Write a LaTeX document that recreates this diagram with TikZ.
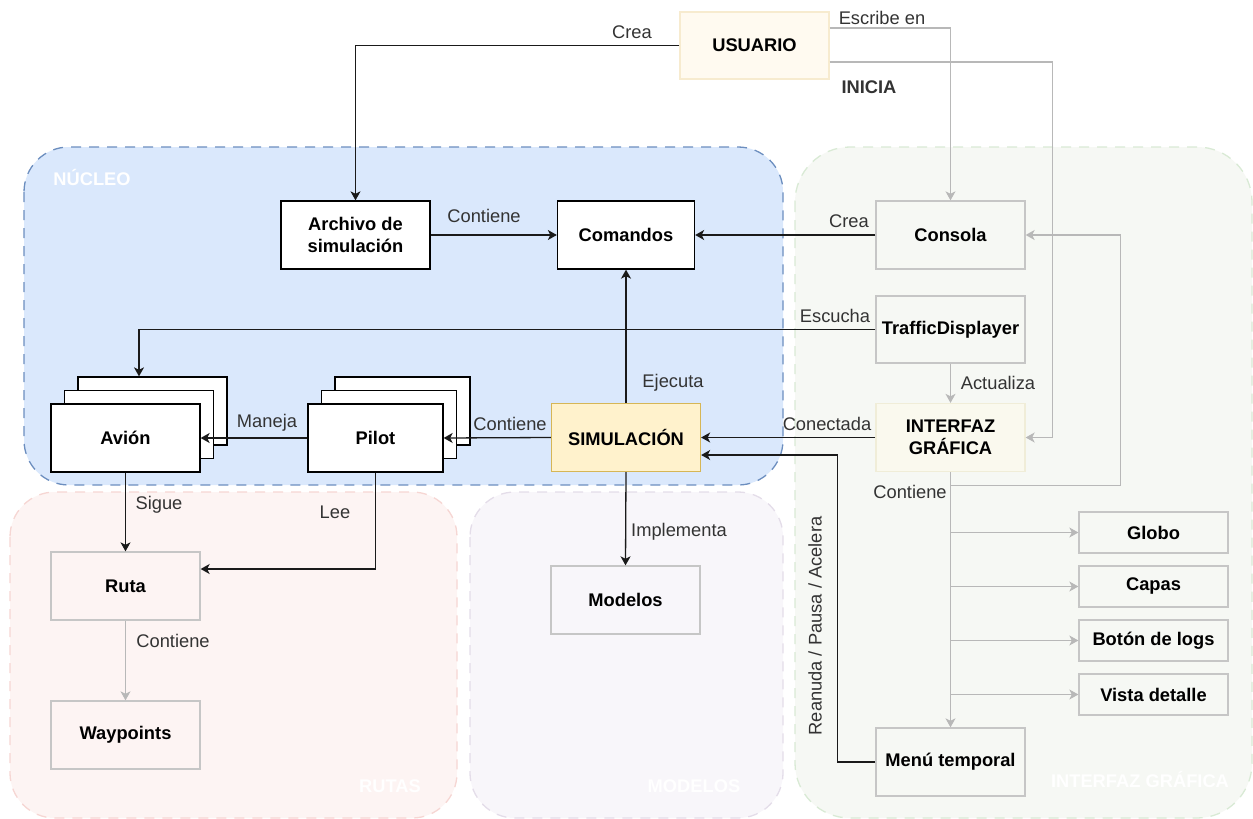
\documentclass[tikz,border=0pt]{standalone}
\usepackage{fontspec}
\setmainfont{Liberation Sans}
\usetikzlibrary{arrows.meta,calc}

\definecolor{nucFill}{HTML}{DAE8FC}
\definecolor{nucLine}{HTML}{6C8EBF}
\definecolor{guiFill}{HTML}{F6F8F4}
\definecolor{guiLine}{HTML}{D9EAD5}
\definecolor{rutFill}{HTML}{FDF4F3}
\definecolor{rutLine}{HTML}{F6D6D3}
\definecolor{modFill}{HTML}{F8F6FA}
\definecolor{modLine}{HTML}{E4DDE9}
\definecolor{usrFill}{HTML}{FFFAF0}
\definecolor{usrLine}{HTML}{F7EBCF}
\definecolor{iguiFill}{HTML}{FAF9EE}
\definecolor{iguiLine}{HTML}{F0EDD8}
\definecolor{simFill}{HTML}{FFF2CC}
\definecolor{simLine}{HTML}{D6B656}
\definecolor{boxGrey}{HTML}{C6C6C6}
\definecolor{edgeGrey}{HTML}{B8B8B8}
\definecolor{edgeDark}{HTML}{1A1A1A}
\definecolor{lblText}{HTML}{333333}

\begin{document}
\begin{tikzpicture}[x=1pt,y=-1pt,
  box/.style={draw, line width=1.3pt, minimum width=149pt, minimum height=68pt,
    inner sep=0pt, align=center, font=\fontsize{18.3}{22}\selectfont\bfseries},
  wbox/.style={box, draw=black, fill=white},
  gbox/.style={box, draw=boxGrey},
  lbl/.style={inner sep=0pt, text=lblText, font=\fontsize{18.3}{22}\selectfont},
  ttl/.style={inner sep=0pt, text=white, font=\fontsize{18.3}{22}\selectfont\bfseries},
  grp/.style={line width=1.3pt, dash pattern=on 10pt off 8pt},
  blk/.style={draw=edgeDark, line width=1.3pt, -{Stealth[length=9pt,width=10pt,inset=2.5pt]}},
  gry/.style={draw=edgeGrey, line width=1.3pt, -{Stealth[length=9pt,width=10pt,inset=2.5pt,fill=edgeGrey]}},
  plain/.style={draw=edgeDark, line width=1.3pt}
]
\useasboundingbox (0,0) rectangle (1253,819);

% ---- group areas ----
\path[grp, fill=rutFill, draw=rutLine, rounded corners=45pt] (10,492) rectangle (457,818);
\path[grp, fill=modFill, draw=modLine, rounded corners=45pt] (470,492) rectangle (783,818);
\path[grp, fill=guiFill, draw=guiLine, rounded corners=55pt] (795,147) rectangle (1252,818);
\path[grp, fill=nucFill, draw=nucLine, rounded corners=45pt] (24,147) rectangle (783,485);

\node[ttl] (tNucleo) at (92,177) {NÚCLEO};
\node[ttl] (tRutas) at (390,786) {RUTAS};
\node[ttl] (tModelos) at (694,786) {MODELOS};
\node[ttl] (tGui) at (1140,779) {INTERFAZ GRÁFICA};

% ---- components ----
\node[box, fill=usrFill, draw=usrLine, minimum height=67pt] (usuario) at (754.5,45.5) {USUARIO};
\node[wbox] (archivo) at (355.5,235) {Archivo de\\simulación};
\node[wbox, minimum width=137pt] (comandos) at (626,235) {Comandos};
\node[gbox, fill=guiFill] (consola) at (950.5,235) {Consola};
\node[gbox, fill=guiFill, minimum height=67pt] (traffic) at (950.5,329.5) {TrafficDisplayer};
\node[box, fill=iguiFill, draw=iguiLine] (igui) at (950.5,437.5) {INTERFAZ\\GRÁFICA};
\node[box, fill=simFill, draw=simLine] (sim) at (626,437.5) {SIMULACIÓN};

% stacked Pilot boxes
\node[wbox, minimum width=135pt] (pilotC) at (402.5,411) {};
\node[wbox, minimum width=135pt] (pilotB) at (389,424.5) {};
\node[wbox, minimum width=135pt] (pilot) at (375.5,438) {Pilot};

% stacked Avión boxes
\node[wbox] (avionC) at (152.5,411) {};
\node[wbox] (avionB) at (139,424.5) {};
\node[wbox] (avion) at (125.5,438) {Avión};

\node[gbox, fill=rutFill] (ruta) at (125.5,586) {Ruta};
\node[gbox, fill=rutFill] (wayp) at (125.5,735) {Waypoints};
\node[gbox, fill=modFill] (modelos) at (625.5,600) {Modelos};

\node[gbox, fill=guiFill, minimum height=41pt] (globo) at (1153.5,532.5) {Globo};
\node[gbox, fill=guiFill, minimum height=41pt] (capas) at (1153.5,586.5) {Capas};
\node[gbox, fill=guiFill, minimum height=41pt] (logs) at (1153.5,640.5) {Botón de logs};
\node[gbox, fill=guiFill, minimum height=41pt] (vista) at (1153.5,694.5) {Vista detalle};
\node[gbox, fill=guiFill] (menu) at (950.5,762) {Menú temporal};

% ---- connectors ----
\draw[blk] (usuario.west) -| (archivo.north);
\draw[gry] ([yshift=17.5pt]usuario.east) -| (consola.north);
\draw[gry] ([yshift=-16.5pt]usuario.east) -| ($(igui.east)+(27,0)$) -- (igui.east);
\draw[blk] (archivo.east) -- (comandos.west);
\draw[blk] (consola.west) -- (comandos.east);
\draw[blk] (sim.north) -- (comandos.south);
\draw[blk] (traffic.west) -| ([xshift=-13.5pt]avionC.north);
\draw[gry] (traffic.south) -- (igui.north);
\draw[blk] (igui.west) -- (sim.east);
\draw[blk] (menu.west) -| ($(sim.east)+(136,17.5)$) -- ([yshift=-17.5pt]sim.east);
\draw[blk] (sim.west) -- (pilot.east);
\draw[blk] (pilot.west) -- (avion.east);
\draw[blk] (avion.south) -- (ruta.north);
\draw[blk] (pilot.south) |- ([yshift=17pt]ruta.east);
\draw[gry] (ruta.south) -- (wayp.north);
\draw[blk] (sim.south) -- (modelos.north);
\draw[gry] (igui.south) -- ++(0,13.5) -| ($(consola.east)+(94.5,0)$) -- (consola.east);
\draw[gry] (igui.south) |- (globo.west);
\draw[gry] (igui.south) |- (capas.west);
\draw[gry] (igui.south) |- (logs.west);
\draw[gry] (igui.south) |- (vista.west);
\draw[gry] (igui.south) -- (menu.north);

% ---- connector labels ----
\node[lbl] (lCrea) at (632,32) {Crea};
\node[lbl] (lEscribe) at (882,18) {Escribe en};
\node[inner sep=0pt, text=lblText, font=\fontsize{18.3}{22}\selectfont\bfseries] (lInicia) at (869,87) {INICIA};
\node[lbl] (lContArch) at (484,216) {Contiene};
\node[lbl] (lCreaCons) at (849,221) {Crea};
\node[lbl] (lEscucha) at (835,316) {Escucha};
\node[lbl] (lActualiza) at (998,383) {Actualiza};
\node[lbl] (lEjecuta) at (673,383) {Ejecuta};
\node[lbl] (lConectada) at (827,424) {Conectada};
\node[lbl] (lContSim) at (510,424) {Contiene};
\node[lbl] (lManeja) at (267,423) {Maneja};
\node[lbl] (lSigue) at (159,505) {Sigue};
\node[lbl] (lLee) at (335,512) {Lee};
\node[lbl] (lContRuta) at (173,641) {Contiene};
\node[lbl] (lImplementa) at (679,532) {Implementa};
\node[lbl] (lContGui) at (910,492) {Contiene};
\node[lbl, rotate=90] (lReanuda) at (815,626) {Reanuda / Pausa / Acelera};
\end{tikzpicture}
\end{document}
